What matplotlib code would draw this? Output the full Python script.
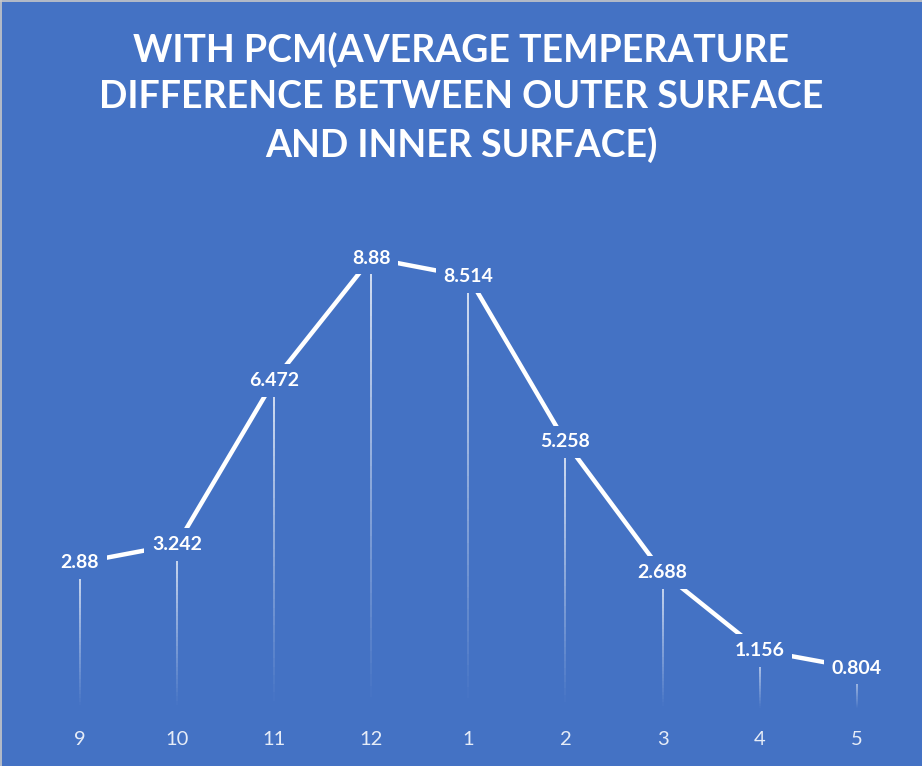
import numpy as np
import matplotlib.pyplot as plt
from matplotlib.collections import LineCollection
from matplotlib.lines import Line2D

# ------------------------------------------------------------
# Data: month index vs. average temperature difference (with PCM)
# ------------------------------------------------------------
months = ['9', '10', '11', '12', '1', '2', '3', '4', '5']
temp_diff = [2.88, 3.242, 6.472, 8.88, 8.514, 5.258, 2.688, 1.156, 0.804]
labels = ['2.88', '3.242', '6.472', '8.88', '8.514', '5.258', '2.688', '1.156', '0.804']

title_lines = [
    'WITH PCM(AVERAGE TEMPERATURE',
    'DIFFERENCE BETWEEN OUTER SURFACE',
    'AND INNER SURFACE)',
]

BG = '#4472C4'
FONT = ['Lato', 'DejaVu Sans']

fig = plt.figure(figsize=(9.22, 7.66), dpi=100, facecolor=BG)
ax = fig.add_axes([0.034, 0.0744, 0.948, 0.663])
ax.set_facecolor(BG)

x = np.arange(len(months))

# drop lines fading out toward the axis
for xi, v in zip(x, temp_diff):
    ys = np.linspace(v, 0, 40)
    segs = [[(xi, ys[i]), (xi, ys[i + 1])] for i in range(len(ys) - 1)]
    alphas = np.linspace(0.85, 0.0, len(segs))
    cols = [(1, 1, 1, a) for a in alphas]
    ax.add_collection(LineCollection(segs, colors=cols, linewidths=1.3, zorder=1))

ax.plot(x, temp_diff, color='white', lw=3.2, solid_capstyle='butt', zorder=2)

# labels centred on the points, filled with the background to mask the line
for xi, v, lab in zip(x, temp_diff, labels):
    ax.annotate(lab, (xi, v), ha='center', va='center', color='white',
                fontsize=14, fontweight='bold', family=FONT, zorder=3,
                bbox=dict(boxstyle='square,pad=0.4', fc=BG, ec='none'))

ax.set_xlim(-0.5, len(months) - 0.5)
ax.set_ylim(0, 10)
ax.set_xticks(x)
ax.set_xticklabels(months, color='#E6ECF7', fontsize=14.5, family=FONT)
ax.tick_params(axis='x', length=0, pad=16)
ax.set_yticks([])
for s in ax.spines.values():
    s.set_visible(False)

for i, line in enumerate(title_lines):
    fig.text(0.5, 1 - (50 + i * 47.5) / 766, line, ha='center', va='center',
             color='white', fontsize=27, fontweight='bold', family=FONT)

# thin grey frame on top and left edges
fig.add_artist(Line2D([0, 1], [0.999, 0.999], color='#C8C8C8', lw=1.2,
                      transform=fig.transFigure))
fig.add_artist(Line2D([0.001, 0.001], [0, 1], color='#C8C8C8', lw=1.2,
                      transform=fig.transFigure))

fig.savefig('out.png', dpi=100, facecolor=BG)
